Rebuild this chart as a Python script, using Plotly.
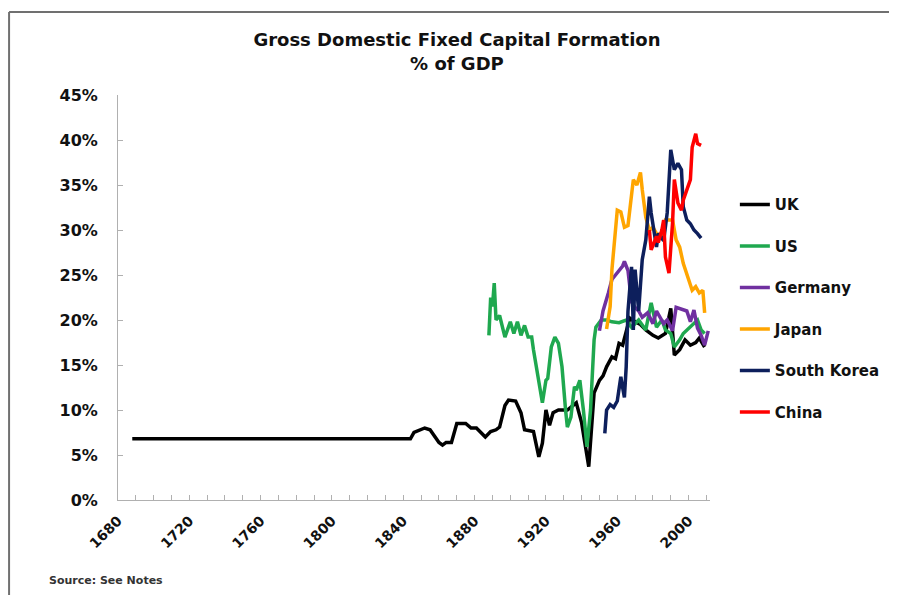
import plotly.graph_objects as go

# year / % of GDP pairs
uk_years = [1688, 1844, 1846, 1850, 1852, 1855, 1858, 1860, 1862, 1864, 1867, 1870, 1875, 1878,
            1881, 1884, 1886, 1889, 1892, 1894, 1897, 1899, 1903, 1906, 1908, 1913, 1916, 1918,
            1920, 1922, 1924, 1927, 1932, 1937, 1940, 1944, 1947, 1950, 1952, 1954, 1957, 1959,
            1961, 1963, 1965, 1967, 1970, 1973, 1976, 1980, 1983, 1987, 1990, 1992, 1995, 1998,
            2001, 2004, 2006, 2009]
uk_vals = [6.8, 6.8, 7.5, 7.8, 8.0, 7.8, 7.0, 6.4, 6.1, 6.4, 6.4, 8.5, 8.5, 8.0,
           8.0, 7.4, 7.0, 7.6, 7.8, 8.1, 10.5, 11.1, 11.0, 9.7, 7.8, 7.6, 4.8, 6.3,
           10.0, 8.3, 9.7, 10.0, 10.0, 10.8, 8.6, 3.7, 11.9, 13.3, 13.8, 14.8, 15.9, 15.7,
           17.4, 17.2, 18.9, 20.2, 19.8, 19.5, 18.9, 18.3, 18.0, 18.5, 21.3, 16.1, 16.7, 17.8,
           17.2, 17.5, 18.0, 17.0]

us_years = [1888, 1889, 1890, 1891, 1892, 1894, 1897, 1900, 1902, 1904, 1906, 1908, 1910, 1912,
            1913, 1915, 1917, 1918, 1920, 1921, 1923, 1925, 1927, 1929, 1931, 1932, 1934, 1936,
            1937, 1939, 1941, 1943, 1945, 1947, 1948, 1951, 1954, 1957, 1961, 1965, 1968, 1972,
            1976, 1979, 1982, 1985, 1987, 1990, 1992, 1995, 1997, 2001, 2005, 2007, 2009]
us_vals = [18.3, 22.5, 21.5, 24.1, 20.0, 20.5, 18.1, 19.8, 18.5, 19.8, 18.3, 19.4, 18.1, 18.1,
           16.7, 14.4, 11.9, 10.8, 13.3, 13.5, 17.0, 18.1, 17.4, 14.8, 10.0, 8.1, 9.2, 12.6,
           12.2, 13.3, 10.0, 5.9, 10.0, 17.8, 19.2, 20.0, 20.0, 19.8, 19.7, 20.0, 19.2, 20.0,
           18.9, 21.9, 19.2, 20.0, 18.9, 18.5, 17.0, 17.8, 18.5, 19.2, 20.0, 18.9, 18.5]

de_years = [1950, 1952, 1955, 1957, 1959, 1963, 1964, 1966, 1968, 1970, 1972, 1974, 1977, 1980,
            1982, 1986, 1988, 1991, 1993, 1996, 1999, 2001, 2003, 2005, 2007, 2009, 2011]
de_vals = [18.8, 21.0, 23.0, 24.5, 25.0, 26.0, 26.5, 25.5, 22.0, 21.4, 21.0, 20.3, 20.8, 19.6,
           21.0, 19.6, 20.0, 18.8, 21.4, 21.2, 21.0, 19.8, 21.1, 19.1, 18.3, 17.2, 18.8]

jp_years = [1954, 1956, 1957, 1960, 1962, 1964, 1966, 1968, 1969, 1971, 1973, 1974, 1976, 1978,
            1980, 1982, 1985, 1987, 1991, 1993, 1995, 1997, 1999, 2002, 2004, 2006, 2008, 2009]
jp_vals = [19.0, 21.5, 25.6, 32.2, 32.0, 30.3, 30.5, 33.7, 35.6, 35.0, 36.4, 34.5, 31.4, 30.0,
           30.3, 29.6, 29.3, 31.1, 31.1, 28.9, 28.1, 26.3, 25.2, 23.3, 23.7, 23.0, 23.3, 20.8]

kr_years = [1953, 1954, 1956, 1958, 1960, 1962, 1963, 1964, 1965, 1966, 1968, 1969, 1970, 1972,
            1974, 1976, 1978, 1979, 1982, 1983, 1986, 1988, 1990, 1992, 1994, 1996, 1997, 1999,
            2001, 2003, 2005, 2007]
kr_vals = [7.4, 10.0, 10.6, 10.3, 11.0, 13.7, 12.5, 11.4, 14.8, 21.0, 25.9, 18.9, 25.6, 21.0,
           26.7, 28.9, 33.7, 31.9, 28.1, 29.6, 28.8, 31.9, 38.9, 36.7, 37.4, 36.7, 32.6, 31.1,
           30.7, 30.0, 29.6, 29.1]

cn_years = [1978, 1979, 1982, 1983, 1985, 1986, 1987, 1989, 1991, 1992, 1994, 1996, 1997, 1999,
            2001, 2002, 2004, 2005, 2007]
cn_vals = [30.0, 27.8, 29.3, 28.6, 30.0, 31.1, 27.0, 25.2, 30.8, 35.6, 33.0, 32.2, 33.3, 34.4,
           35.6, 39.2, 40.7, 39.6, 39.4]

series = [
    ("UK", uk_years, uk_vals, "#000000"),
    ("US", us_years, us_vals, "#1fa84f"),
    ("Germany", de_years, de_vals, "#7030a0"),
    ("Japan", jp_years, jp_vals, "#ffa500"),
    ("South Korea", kr_years, kr_vals, "#0d1f5c"),
    ("China", cn_years, cn_vals, "#ff0000"),
]

fig = go.Figure()
for name, xs, ys, col in series:
    fig.add_trace(go.Scatter(x=xs, y=ys, mode="lines", name=name, legendgroup=name,
                             line=dict(color=col, width=3.5)))

ytick_font = dict(family="DejaVu Sans", size=16, color="#111111", weight="bold")
xtick_font = dict(family="DejaVu Sans", size=14, color="#111111", weight="bold")

# page body has an 8px margin, so the figure is sized 8px smaller
fig.update_layout(
    width=889, height=587,
    margin=dict(l=110, r=187, t=87, b=95),
    paper_bgcolor="white", plot_bgcolor="white",
    title=dict(text="Gross Domestic Fixed Capital Formation<br>% of GDP",
               x=0.505, xref="container", xanchor="center",
               y=0.935, yref="container", yanchor="top",
               font=dict(family="DejaVu Sans", size=18, color="#111111", weight="bold")),
    legend=dict(x=1.042, y=0.77, xanchor="left", yanchor="top",
                font=dict(family="DejaVu Sans", size=15, color="#111111", weight="bold"),
                tracegroupgap=19, itemwidth=30, bgcolor="rgba(0,0,0,0)"),
    showlegend=True,
)

fig.update_xaxes(range=[1680, 2012], tickvals=[1680, 1720, 1760, 1800, 1840, 1880, 1920, 1960, 2000],
                 tickangle=-45, tickfont=xtick_font, showgrid=False, zeroline=False,
                 showline=True, linecolor="#b0b0b0", linewidth=1, automargin=False,
                 ticks="inside", ticklen=5, tickcolor="#b0b0b0", ticklabelstandoff=6,
                 minor=dict(dtick=10, tick0=1680, ticks="inside", ticklen=5, tickcolor="#b0b0b0"))
fig.update_yaxes(range=[0, 45], dtick=5, ticksuffix="%", tickfont=ytick_font, automargin=False,
                 showgrid=False, zeroline=False, showline=True, linecolor="#b0b0b0", linewidth=1,
                 ticks="inside", ticklen=5, tickcolor="#b0b0b0", ticklabelstandoff=16)

fig.add_annotation(text="Source: See Notes", xref="paper", yref="paper", x=-0.12, y=-0.198,
                   xanchor="left", yanchor="middle", showarrow=False,
                   font=dict(family="DejaVu Sans", size=11, color="#333333", weight="bold"))

# outer frame (top and left edges)
fig.add_shape(type="line", xref="paper", yref="paper", x0=-0.184, x1=1.32, y0=1.205, y1=1.205,
              line=dict(color="#707070", width=2))
fig.add_shape(type="line", xref="paper", yref="paper", x0=-0.184, x1=-0.184, y0=1.205, y1=-0.25,
              line=dict(color="#707070", width=2))

fig.write_html("out.html")
